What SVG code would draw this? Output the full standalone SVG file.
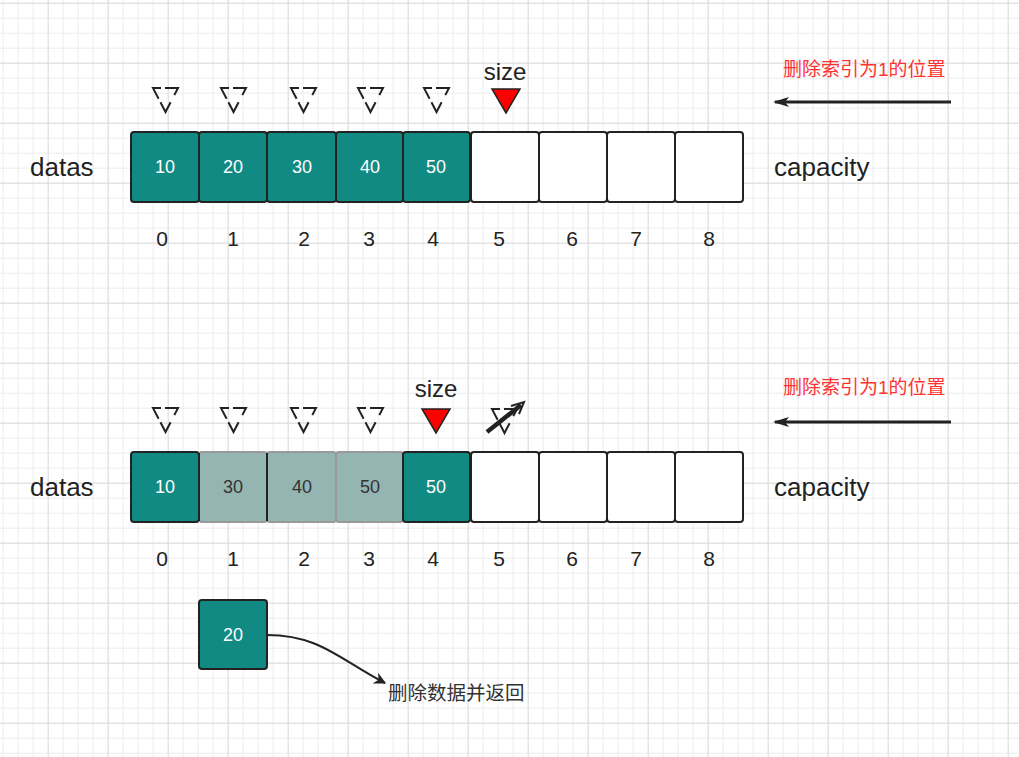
<svg xmlns="http://www.w3.org/2000/svg" width="1019" height="757" viewBox="0 0 1019 757">
<defs>
<pattern id="minor" x="2.7" y="2.7" width="15" height="15" patternUnits="userSpaceOnUse">
<path d="M0,0.5 H15 M0.5,0 V15" stroke="#ececec" stroke-width="1" fill="none"/>
</pattern>
<pattern id="major" x="47.7" y="2.7" width="60" height="60" patternUnits="userSpaceOnUse">
<path d="M0,0.5 H60 M0.5,0 V60" stroke="#dedede" stroke-width="1" fill="none"/>
</pattern>
<marker id="ah" viewBox="0 0 16 10" refX="14" refY="5" markerWidth="16" markerHeight="10" markerUnits="userSpaceOnUse" orient="auto">
<path d="M0,0 L16,5 L0,10 L4,5 Z" fill="#222"/>
</marker>
<marker id="ah2" viewBox="0 0 10 10" refX="9" refY="5" markerWidth="6" markerHeight="6" orient="auto">
<path d="M0,0 L10,5 L0,10 L3,5 Z" fill="#222"/>
</marker>
</defs>
<style>
.t{font-family:"Liberation Sans","Noto Sans CJK SC",sans-serif}
.c{fill:#128a84;stroke:#222;stroke-width:2}
.g{fill:#95b5b3;stroke:#999;stroke-width:2}
.w{fill:#fff;stroke:#222;stroke-width:2}
.v{font-size:18px;fill:#fff;text-anchor:middle;dominant-baseline:central}
.vd{font-size:18px;fill:#333;text-anchor:middle;dominant-baseline:central}
.idx{font-size:21px;fill:#222;text-anchor:middle}
.lbl{font-size:26px;fill:#222}
.sz{font-size:24px;fill:#222;text-anchor:middle}
.dt{fill:none;stroke:#222;stroke-width:2;stroke-linejoin:miter;stroke-dasharray:8,4,21,8,22,4,12,0}
.rt{fill:#ff0000;stroke:#222;stroke-width:1.5}
.red{font-size:19px;fill:#ff3333;dominant-baseline:central}
.line{fill:none;stroke:#222;stroke-width:3}
</style>
<rect width="1019" height="757" fill="#fff"/>
<rect width="1019" height="757" fill="url(#minor)"/>
<rect width="1019" height="757" fill="url(#major)"/>

<!-- Top array -->
<g id="top-labels" class="t">
<text class="lbl" x="30" y="176">datas</text>
<text class="lbl" x="774" y="176">capacity</text>
<text class="red" x="783" y="69">删除索引为1的位置</text>
<text class="sz" x="505" y="80">size</text>
</g>
<g id="top-markers">
<path class="dt" d="M153,88 L178,88 L165.5,112 Z"/>
<path class="dt" d="M221,88 L246,88 L233.5,112 Z"/>
<path class="dt" d="M291,88 L316,88 L303.5,112 Z"/>
<path class="dt" d="M358,88 L383,88 L370.5,112 Z"/>
<path class="dt" d="M424,88 L449,88 L436.5,112 Z"/>
<path class="rt" d="M492,89 L520,89 L506,113 Z"/>
</g>
<g id="top-cells" class="t">
<g id="t0"><rect class="c" x="131" y="132" width="68" height="70" rx="3"/><text class="v" x="165" y="167">10</text></g>
<g id="t1"><rect class="c" x="199" y="132" width="68" height="70" rx="3"/><text class="v" x="233" y="167">20</text></g>
<g id="t2"><rect class="c" x="267" y="132" width="69" height="70" rx="3"/><text class="v" x="302" y="167">30</text></g>
<g id="t3"><rect class="c" x="336" y="132" width="67" height="70" rx="3"/><text class="v" x="370" y="167">40</text></g>
<g id="t4"><rect class="c" x="403" y="132" width="67" height="70" rx="3"/><text class="v" x="436" y="167">50</text></g>
<g id="t5"><rect class="w" x="471" y="132" width="68" height="70" rx="3"/></g>
<g id="t6"><rect class="w" x="539" y="132" width="68" height="70" rx="3"/></g>
<g id="t7"><rect class="w" x="607" y="132" width="68" height="70" rx="3"/></g>
<g id="t8"><rect class="w" x="675" y="132" width="68" height="70" rx="3"/></g>
</g>
<g id="top-index" class="t">
<text class="idx" x="162" y="246">0</text>
<text class="idx" x="233" y="246">1</text>
<text class="idx" x="304" y="246">2</text>
<text class="idx" x="369" y="246">3</text>
<text class="idx" x="433" y="246">4</text>
<text class="idx" x="499" y="246">5</text>
<text class="idx" x="572" y="246">6</text>
<text class="idx" x="636" y="246">7</text>
<text class="idx" x="709" y="246">8</text>
</g>

<!-- Bottom array -->
<g id="bottom-labels" class="t">
<text class="lbl" x="30" y="496">datas</text>
<text class="lbl" x="774" y="496">capacity</text>
<text class="red" x="783" y="387">删除索引为1的位置</text>
<text class="sz" x="436" y="397">size</text>
<text x="388" y="693" font-size="19.5" fill="#333" dominant-baseline="central">删除数据并返回</text>
</g>
<g id="bottom-markers">
<path class="dt" d="M153,408 L178,408 L165.5,432 Z"/>
<path class="dt" d="M221,408 L246,408 L233.5,432 Z"/>
<path class="dt" d="M291,408 L316,408 L303.5,432 Z"/>
<path class="dt" d="M358,408 L383,408 L370.5,432 Z"/>
<path class="rt" d="M422,409 L450,409 L436,433 Z"/>
<path class="dt" d="M492,409 L517,409 L504.5,433 Z"/>
<path d="M487,432 L521,405" stroke="#222" stroke-width="4.5" fill="none"/>
<path d="M511,406 L524,402 L519,414" stroke="#222" stroke-width="2" fill="none"/>
</g>
<g id="bottom-cells" class="t">
<g id="b0"><rect class="c" x="131" y="452" width="68" height="70" rx="3"/><text class="v" x="165" y="487">10</text></g>
<g id="b1"><rect class="g" x="199" y="452" width="68" height="70" rx="3"/><text class="vd" x="233" y="487">30</text></g>
<g id="b2"><rect class="g" x="267" y="452" width="69" height="70" rx="3"/><text class="vd" x="302" y="487">40</text></g>
<g id="b3"><rect class="g" x="336" y="452" width="67" height="70" rx="3"/><text class="vd" x="370" y="487">50</text></g>
<g id="b4"><rect class="c" x="403" y="452" width="67" height="70" rx="3"/><text class="v" x="436" y="487">50</text></g>
<g id="b5"><rect class="w" x="471" y="452" width="68" height="70" rx="3"/></g>
<g id="b6"><rect class="w" x="539" y="452" width="68" height="70" rx="3"/></g>
<g id="b7"><rect class="w" x="607" y="452" width="68" height="70" rx="3"/></g>
<g id="b8"><rect class="w" x="675" y="452" width="68" height="70" rx="3"/></g>
<path d="M199,453 V521 M267,453 V521" stroke="#222" stroke-width="2"/>
</g>
<g id="bottom-index" class="t">
<text class="idx" x="162" y="566">0</text>
<text class="idx" x="233" y="566">1</text>
<text class="idx" x="304" y="566">2</text>
<text class="idx" x="369" y="566">3</text>
<text class="idx" x="433" y="566">4</text>
<text class="idx" x="499" y="566">5</text>
<text class="idx" x="572" y="566">6</text>
<text class="idx" x="636" y="566">7</text>
<text class="idx" x="709" y="566">8</text>
</g>
<g id="removed" class="t">
<rect class="c" x="199" y="600" width="68" height="69" rx="3"/>
<text class="v" x="233" y="635">20</text>
</g>

<g id="connectors">
<path class="line" d="M951,102 L775,102" marker-end="url(#ah)"/>
<path class="line" d="M951,422 L775,422" marker-end="url(#ah)"/>
<path d="M267,635 C320,635 340,660 385,683" fill="none" stroke="#222" stroke-width="2" marker-end="url(#ah2)"/>
</g>
</svg>
